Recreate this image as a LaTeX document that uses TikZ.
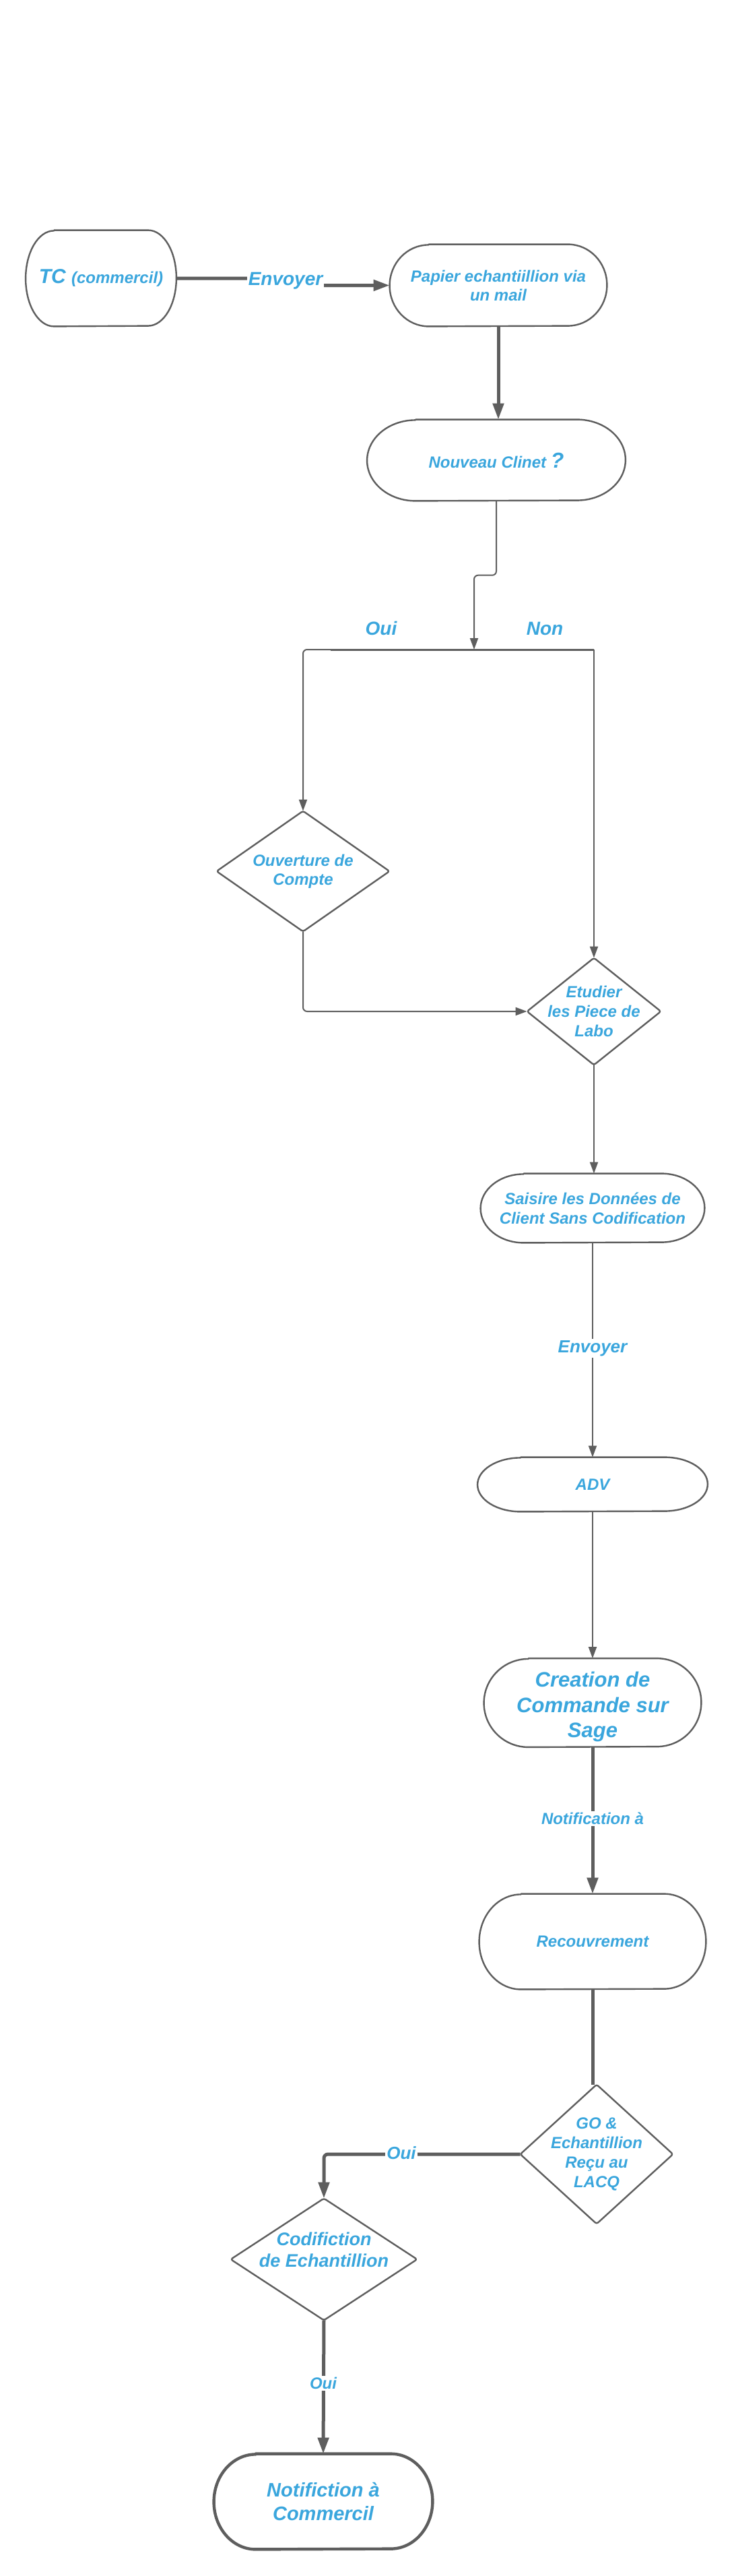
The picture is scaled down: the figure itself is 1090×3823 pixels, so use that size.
\documentclass[tikz,border=0pt]{standalone}
\usepackage{fontspec}
\setmainfont{Liberation Sans}
\usetikzlibrary{arrows.meta,calc}
\definecolor{linegray}{HTML}{5E5E5E}
\definecolor{txtblue}{HTML}{3AA6DD}
\newcommand\fs[2]{\fontsize{#1pt}{#2pt}\selectfont}
% stadium outline: name, rx (pt), ry (pt), extra options
\newcommand\stadline[4]{%
  \draw[outline,#4] ($(#1.north west)+(#2pt,0pt)$) -- ($(#1.north east)+(-#2pt,0pt)$)
    arc[start angle=90,end angle=-90,x radius=#2pt,y radius=#3pt]
    -- ($(#1.south west)+(#2pt,0pt)$)
    arc[start angle=270,end angle=90,x radius=#2pt,y radius=#3pt] -- cycle;}
% diamond outline: name, extra options
\newcommand\diamline[2]{%
  \draw[outline,rounded corners=1.5pt,#2] (#1.north) -- (#1.east) -- (#1.south) -- (#1.west) -- cycle;}
\begin{document}
\begin{tikzpicture}[x=0.5pt,y=-0.5pt,
  nodebox/.style={rectangle, inner sep=0pt, align=center, text=txtblue, font=\bfseries\itshape\fs{12}{14}},
  outline/.style={draw=linegray, line width=1.2pt, line join=round},
  thinc/.style={draw=linegray, line width=1pt, rounded corners=3pt, -{Triangle[length=8.5pt,width=6pt]}},
  thickc/.style={draw=linegray, line width=2.5pt, rounded corners=3pt, -{Triangle[length=12pt,width=8pt]}},
  plainthick/.style={draw=linegray, line width=2.5pt},
  lbl/.style={fill=white, inner sep=1pt, text=txtblue, font=\bfseries\itshape\fs{12}{14}}]
\fill[white] (0,0) rectangle (1090,3823);
\useasboundingbox (0,0) rectangle (1090,3823);

% ---------- nodes ----------
\node[nodebox, minimum width=111.5pt, minimum height=71pt] (tc) at (150,413)
  {\fs{15}{17}TC \fs{12}{14}(commercil)};
\node[nodebox, minimum width=161pt, minimum height=60.5pt] (pap) at (740,423.5)
  {Papier echantiillion via\\un mail};
\node[nodebox, minimum width=191.5pt, minimum height=60pt] (nouv) at (737,683)
  {Nouveau Clinet \fs{16}{18}?};
\node[nodebox, minimum width=128pt, minimum height=89pt] (ouv) at (450,1293)
  {Ouverture de\\Compte};
\node[nodebox, minimum width=99pt, minimum height=79pt, font=\bfseries\itshape\fs{12}{14.5}] (etu) at (882,1501)
  {Etudier\\les Piece de\\Labo};
\node[nodebox, minimum width=166pt, minimum height=51pt, font=\bfseries\itshape\fs{12}{14.5}] (sai) at (880,1793)
  {Saisire les Données de\\Client Sans Codification};
\node[nodebox, minimum width=170.5pt, minimum height=40pt] (adv) at (880,2203)
  {ADV};
\node[nodebox, minimum width=161pt, minimum height=65.5pt] (cre) at (880,2527) {};
\node[nodebox, font=\bfseries\itshape\fs{15.5}{18.75}] (cretxt) at (880,2533)
  {Creation de\\Commande sur\\Sage};
\node[nodebox, minimum width=168pt, minimum height=70.5pt] (rec) at (880,2881.5)
  {Recouvrement};
\node[nodebox, minimum width=113pt, minimum height=103pt, font=\bfseries\itshape\fs{12}{14.5}] (go) at (886,3197)
  {GO \&\\Echantillion\\Reçu au\\LACQ};
\node[nodebox, minimum width=138pt, minimum height=90pt] (cod) at (481,3353) {};
\node[nodebox, font=\bfseries\itshape\fs{13.5}{16}] (codtxt) at (481,3339)
  {Codifiction\\de Echantillion};
\node[nodebox, minimum width=162pt, minimum height=70.5pt, font=\bfseries\itshape\fs{14.5}{17.5}] (ntf) at (480,3712.5)
  {Notifiction à\\Commercil};

% ---------- outlines ----------
\stadline{tc}{21}{35.5}{}
\stadline{pap}{29}{30.25}{}
\stadline{nouv}{36}{30}{}
\diamline{ouv}{}
\diamline{etu}{}
\stadline{sai}{32}{25.5}{}
\stadline{adv}{32}{20}{}
\stadline{cre}{33}{32.75}{}
\stadline{rec}{31}{35.25}{}
\diamline{go}{}
\diamline{cod}{}
\stadline{ntf}{31}{35.25}{line width=2.2pt}

% ---------- bar ----------
\coordinate (barL) at (491,964);
\coordinate (barR) at (882,964);
\coordinate (barIn) at (704,964);
\draw[draw=linegray, line width=1.5pt] (barL) -- (barR);

% ---------- connectors ----------
\draw[thickc] (tc.east) -| ($(tc.east)!.5!(pap.west)$) |- (pap.west);
\node[lbl, font=\bfseries\itshape\fs{14}{16}] (env1) at (424,417) {Envoyer};

\draw[thickc] (pap.south) -- (pap.south |- nouv.north);

\draw[thinc] (nouv.south) |- ($(nouv.south)!.5!(barIn)$) -| (barIn);
\node[lbl, fill=none, font=\bfseries\itshape\fs{14}{16}] (oui1) at (566,932) {Oui};
\node[lbl, fill=none, font=\bfseries\itshape\fs{14}{16}] (non1) at (809,933) {Non};

\draw[thinc] (barL) -| (ouv.north);
\draw[thinc] (barR) -- (etu.north);
\draw[thinc] (ouv.south) |- (etu.west);

\draw[thinc] (etu.south) -- (etu.south |- sai.north);
\draw[thinc] (sai.south) -- (adv.north);
\node[lbl, font=\bfseries\itshape\fs{13}{15}] (env2) at (880,2001) {Envoyer};

\draw[thinc] (adv.south) -- (cre.north);

\draw[thickc] (cre.south) -- (rec.north);
\node[lbl] (notif) at (880,2699) {Notification à};

\draw[plainthick] (rec.south) -- (rec.south |- go.north);

\draw[thickc] (go.west) -| (cod.north);
\node[lbl, font=\bfseries\itshape\fs{13}{15}] (oui2) at (596,3195) {Oui};

\draw[thickc] (cod.south) -- (ntf.north);
\node[lbl] (oui3) at (480,3537) {Oui};
\end{tikzpicture}
\end{document}
